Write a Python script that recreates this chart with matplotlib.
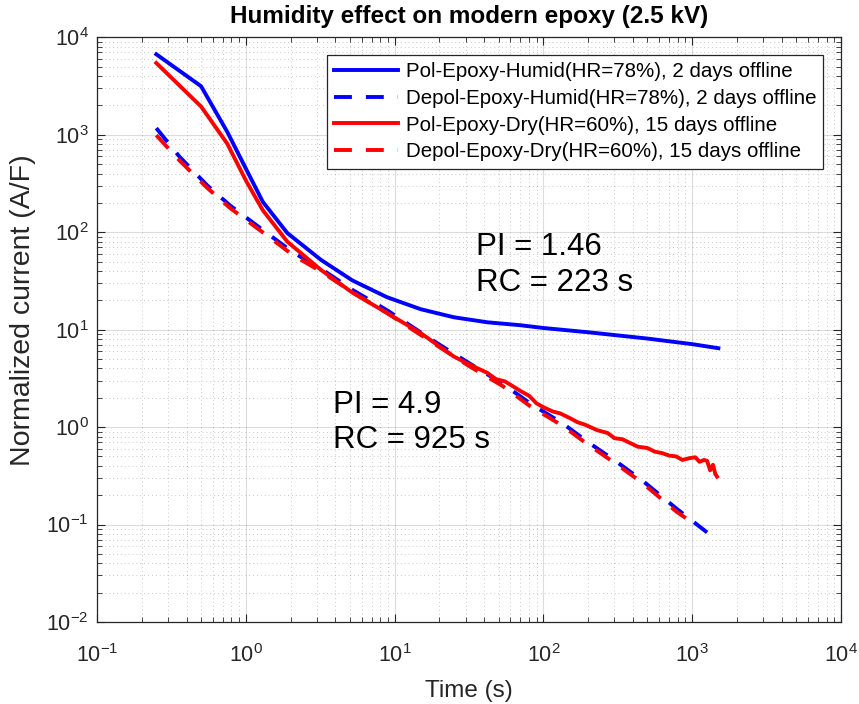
import matplotlib
matplotlib.use("Agg")
from matplotlib import pyplot as plt
from matplotlib.ticker import LogLocator, NullFormatter

plt.rcParams['font.family'] = ['Liberation Sans', 'DejaVu Sans']

# Polarisation / depolarisation currents
t_pol_humid = [0.25, 0.5, 0.75, 1.0, 1.3, 1.9, 3.2, 5.2, 8.9, 15, 25, 42,
               70, 100, 200, 500, 1000, 1500]
i_pol_humid = [6700, 3150, 1070, 450, 205, 98, 52, 32, 21.5, 16.2, 13.4,
               11.9, 11.1, 10.4, 9.4, 8.1, 7.1, 6.45]

t_dep_humid = [0.25, 0.36, 0.55, 0.78, 1.45, 2.08, 3.16, 5.25, 8.9, 19.2,
               31.9, 53, 81, 136, 197, 311, 466, 787, 1260]
i_dep_humid = [1170, 590, 302, 189, 93, 62, 42.7, 25.4, 15.8, 7.3, 4.5,
               2.8, 1.76, 1.08, 0.71, 0.44, 0.28, 0.145, 0.083]

t_pol_dry = [0.25, 0.5, 0.75, 1.0, 1.3, 1.9, 3.2, 5.2, 8.9, 15, 25, 30, 35,
             42, 48, 55, 63, 70, 80, 90, 100, 115, 130, 150, 170, 190, 230,
             270, 300, 340, 380, 430, 500, 560, 630, 700, 780, 860, 960,
             1050, 1120, 1200, 1260, 1320, 1380, 1430, 1470]
i_pol_dry = [5450, 1950, 810, 340, 168, 80, 41, 24, 14.8, 9.2, 5.3, 4.6,
             4.1, 3.6, 3.1, 2.95, 2.6, 2.35, 2.1, 1.75, 1.6, 1.45, 1.38,
             1.24, 1.12, 1.06, 0.93, 0.87, 0.77, 0.75, 0.69, 0.63, 0.61,
             0.56, 0.54, 0.51, 0.50, 0.46, 0.48, 0.49, 0.44, 0.46, 0.45,
             0.36, 0.41, 0.33, 0.31]

t_dep_dry = [0.25, 0.36, 0.55, 0.78, 1.45, 2.08, 3.16, 5.25, 8.9, 19.2,
             31.9, 53, 81, 136, 197, 311, 466, 787, 1000]
i_dep_dry = [990, 540, 285, 178, 88, 58, 40, 24, 14.8, 6.9, 4.2, 2.65,
             1.65, 1.02, 0.67, 0.415, 0.265, 0.135, 0.105]

labels = ["Pol-Epoxy-Humid(HR=78%), 2 days offline",
          "Depol-Epoxy-Humid(HR=78%), 2 days offline",
          "Pol-Epoxy-Dry(HR=60%), 15 days offline",
          "Depol-Epoxy-Dry(HR=60%), 15 days offline"]

txt = (0.15, 0.15, 0.15)

fig = plt.figure(figsize=(8.59, 7.04), dpi=100)
ax = fig.add_axes([0.113, 0.1165, 0.866, 0.8305])

lw = 2.8
dash = (4.6, 3.6)
ax.plot(t_pol_humid, i_pol_humid, color="blue", lw=lw, label=labels[0])
ax.plot(t_dep_humid, i_dep_humid, color="blue", lw=lw, dashes=dash,
        label=labels[1])
ax.plot(t_pol_dry, i_pol_dry, color="red", lw=lw, label=labels[2])
ax.plot(t_dep_dry, i_dep_dry, color="red", lw=lw, dashes=dash,
        label=labels[3])

ax.set_xscale("log")
ax.set_yscale("log")
ax.set_xlim(0.1, 1e4)
ax.set_ylim(1e-2, 1e4)

# MATLAB-like box, inward ticks and major/minor grid
ax.xaxis.set_major_locator(LogLocator(base=10, numticks=10))
ax.yaxis.set_major_locator(LogLocator(base=10, numticks=10))
ax.xaxis.set_minor_locator(LogLocator(base=10, subs=range(2, 10), numticks=20))
ax.yaxis.set_minor_locator(LogLocator(base=10, subs=range(2, 10), numticks=20))
ax.xaxis.set_minor_formatter(NullFormatter())
ax.yaxis.set_minor_formatter(NullFormatter())
ax.tick_params(which="both", direction="in", top=True, right=True,
               colors=txt, labelsize=15.5)
ax.tick_params(axis="x", which="major", pad=16)
ax.tick_params(axis="y", which="major", pad=6)
ax.tick_params(which="major", length=6, width=0.8)
ax.tick_params(which="minor", length=3.5, width=0.6)
ax.grid(which="major", color=txt, alpha=0.16, lw=0.8, ls="-")
ax.grid(which="minor", color=txt, alpha=0.25, lw=0.7, ls=(0, (1, 3)))
for s in ax.spines.values():
    s.set_color(txt)
    s.set_linewidth(0.9)

ax.set_xlabel("Time (s)", fontsize=17.5, color=txt, labelpad=9)
ax.set_ylabel("Normalized current (A/F)", fontsize=20.5, color=txt)
ax.yaxis.set_label_coords(-0.082, 0.533)
fig.text(0.546, 1 - 17 / 704, "Humidity effect on modern epoxy (2.5 kV)",
         fontsize=17.5, fontweight="bold", ha="center", va="center")

ax.text(35, 70, "PI = 1.46", fontsize=22.5, va="center", ha="left")
ax.text(35, 30, "RC = 223 s", fontsize=22.5, va="center", ha="left")
ax.text(3.86, 1.68, "PI = 4.9", fontsize=22.5, va="center", ha="left")
ax.text(3.86, 0.74, "RC = 925 s", fontsize=22.5, va="center", ha="left")

leg = ax.legend(loc="upper right", fontsize=14.8, handlelength=3.1,
                borderaxespad=0.85, fancybox=False, framealpha=1,
                edgecolor=txt, borderpad=0.35, labelspacing=0.38,
                handletextpad=0.4)
leg.get_frame().set_linewidth(0.9)

fig.savefig("out.png", dpi=100)
